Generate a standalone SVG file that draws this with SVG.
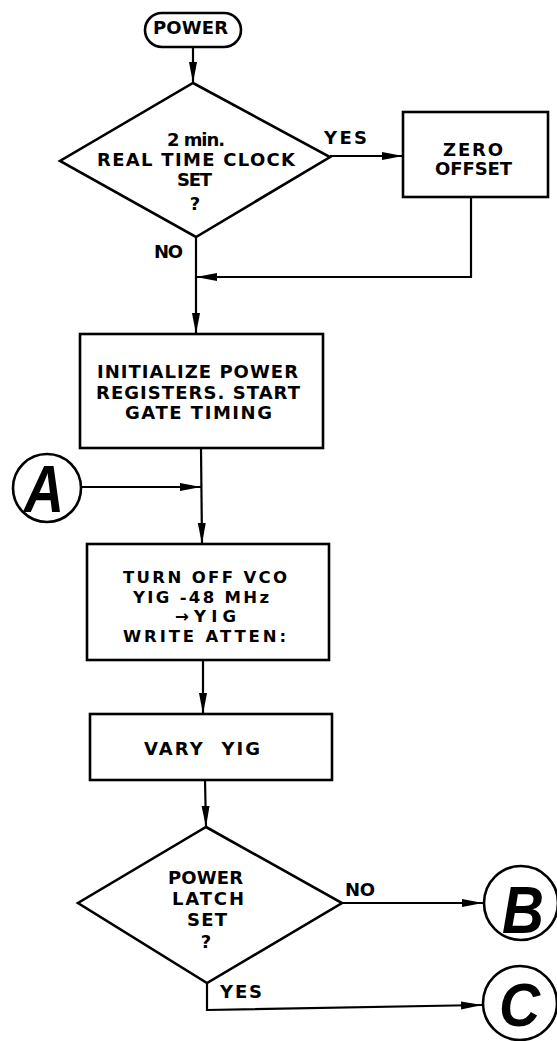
<svg xmlns="http://www.w3.org/2000/svg" width="557" height="1041" viewBox="0 0 557 1041">
<style>
.shape{fill:#fff;stroke:#000;stroke-width:2.6}
.line{fill:none;stroke:#000;stroke-width:2.2}
.t{font-family:"DejaVu Sans","Liberation Sans",Arial,sans-serif;font-weight:bold;font-size:18px;fill:#000}
.s{font-size:16.5px}
.big{font-family:"Liberation Sans",Arial,sans-serif;font-weight:bold;font-style:italic;font-size:66px;fill:#000}
</style>
<defs>
<marker id="arr" markerUnits="userSpaceOnUse" markerWidth="22" markerHeight="10" refX="21" refY="4.5" orient="auto">
<path d="M0,0.5 L21,4.5 L0,8.5 Z" fill="#000"/>
</marker>
</defs>
<rect width="557" height="1041" fill="#fff"/>
<g id="connectors">
<line class="line" x1="193" y1="47" x2="193" y2="83" marker-end="url(#arr)"/>
<line class="line" x1="330" y1="156" x2="403" y2="156" marker-end="url(#arr)"/>
<polyline class="line" points="471,197 471,277 196,277" marker-end="url(#arr)"/>
<line class="line" x1="196" y1="237" x2="196" y2="334" marker-end="url(#arr)"/>
<line class="line" x1="201" y1="448" x2="202" y2="544" marker-end="url(#arr)"/>
<line class="line" x1="81" y1="487" x2="201" y2="487" marker-end="url(#arr)"/>
<line class="line" x1="203" y1="660" x2="203" y2="714" marker-end="url(#arr)"/>
<line class="line" x1="205" y1="780" x2="206" y2="827" marker-end="url(#arr)"/>
<line class="line" x1="342" y1="903" x2="483" y2="903" marker-end="url(#arr)"/>
<polyline class="line" points="207,983 207,1010 482,1005" marker-end="url(#arr)"/>
</g>
<g id="power-start">
<rect class="shape" x="145" y="13" width="96" height="34" rx="17"/>
<text class="t" x="153" y="34" textLength="75" lengthAdjust="spacing">POWER</text>
</g>
<g id="rtc-decision">
<polygon class="shape" points="193,83 330,157 196,237 60,161"/>
<text class="t" x="167" y="146" textLength="58" lengthAdjust="spacing">2 min.</text>
<text class="t" x="97" y="166" textLength="198" lengthAdjust="spacing">REAL TIME CLOCK</text>
<text class="t" x="177" y="186" textLength="35" lengthAdjust="spacing">SET</text>
<text class="t" x="195" y="210" text-anchor="middle">?</text>
<text class="t" x="324" y="144" textLength="43" lengthAdjust="spacing">YES</text>
<text class="t" x="154" y="258" textLength="29" lengthAdjust="spacing">NO</text>
</g>
<g id="zero-offset">
<rect class="shape" x="403" y="112" width="145" height="85"/>
<text class="t" x="443" y="156" textLength="60" lengthAdjust="spacing">ZERO</text>
<text class="t" x="435" y="175" textLength="77" lengthAdjust="spacing">OFFSET</text>
</g>
<g id="initialize">
<rect class="shape" x="80" y="334" width="243" height="114"/>
<text class="t" x="97" y="378" textLength="201" lengthAdjust="spacing">INITIALIZE POWER</text>
<text class="t" x="96" y="399" textLength="204" lengthAdjust="spacing">REGISTERS. START</text>
<text class="t" x="125" y="419" textLength="147" lengthAdjust="spacing">GATE TIMING</text>
</g>
<g id="connector-a">
<circle class="shape" cx="47" cy="488" r="34"/>
<text class="big" x="24" y="512" textLength="40" lengthAdjust="spacingAndGlyphs">A</text>
</g>
<g id="turn-off-vco">
<rect class="shape" x="87" y="544" width="242" height="116"/>
<text class="t s" x="123" y="583" textLength="164" lengthAdjust="spacing">TURN OFF VCO</text>
<text class="t s" x="133" y="602.5" textLength="136" lengthAdjust="spacing">YIG -48 MHz</text>
<text class="t s" x="175" y="622" textLength="61" lengthAdjust="spacing">→YIG</text>
<text class="t s" x="123" y="641.5" textLength="163" lengthAdjust="spacing">WRITE ATTEN:</text>
</g>
<g id="vary-yig">
<rect class="shape" x="90" y="714" width="242" height="66"/>
<text class="t" x="144" y="755" textLength="116" lengthAdjust="spacing">VARY&#160; YIG</text>
</g>
<g id="latch-decision">
<polygon class="shape" points="206,827 342,903 207,983 78,903"/>
<text class="t" x="168" y="884" textLength="75" lengthAdjust="spacing">POWER</text>
<text class="t" x="172" y="905" textLength="72" lengthAdjust="spacing">LATCH</text>
<text class="t" x="187" y="926" textLength="40" lengthAdjust="spacing">SET</text>
<text class="t" x="206" y="948" text-anchor="middle">?</text>
<text class="t" x="345" y="896" textLength="30" lengthAdjust="spacing">NO</text>
<text class="t" x="220" y="998" textLength="42" lengthAdjust="spacing">YES</text>
</g>
<g id="connector-b">
<circle class="shape" cx="521" cy="903" r="37"/>
<text class="big" x="502" y="933" textLength="42" lengthAdjust="spacingAndGlyphs">B</text>
</g>
<g id="connector-c">
<circle class="shape" cx="520" cy="1003" r="37"/>
<text class="big" x="499" y="1026" textLength="41" lengthAdjust="spacingAndGlyphs" style="font-size:62px">C</text>
</g>
</svg>
